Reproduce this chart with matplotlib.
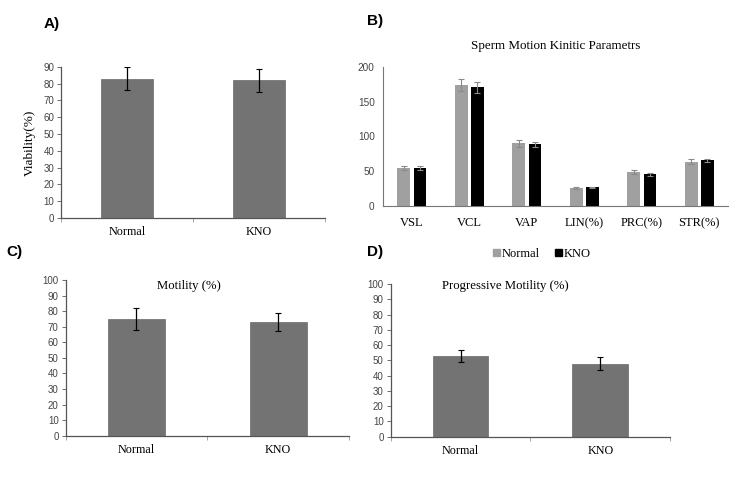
import numpy as np
import matplotlib
matplotlib.use('Agg')
import matplotlib.pyplot as plt
from matplotlib.patches import Patch

# data
groups = ['Normal', 'KNO']
viability = [83, 82]
viability_err = [7, 7]
motility = [75, 73]
motility_err = [7, 6]
prog_motility = [53, 48]
prog_motility_err = [4, 4]

params = ['VSL', 'VCL', 'VAP', 'LIN(%)', 'PRC(%)', 'STR(%)']
kin_normal = [55, 174, 90, 26, 49, 64]
kin_normal_err = [3, 9, 5, 2, 3, 4]
kin_kno = [54.5, 171, 88.5, 27, 45.5, 65.5]
kin_kno_err = [2.5, 8, 4, 1, 2.5, 2.5]

SERIF = 'Liberation Serif'
SANS = 'Liberation Sans'
BAR = '#737373'
AXC = '#555555'

fig = plt.figure(figsize=(7.54, 4.78), dpi=100)


def simple_panel(rect, vals, errs, ymax, step, ylabel=None):
    ax = fig.add_axes(rect)
    x = np.arange(len(groups))
    ax.bar(x, vals, width=0.4, color=BAR, edgecolor='#555555', linewidth=0.4, zorder=2)
    ax.errorbar(x, vals, yerr=errs, fmt='none', ecolor='black', elinewidth=0.9,
                capsize=2.5, capthick=0.8, zorder=3)
    ax.set_xlim(-0.5, len(groups) - 0.5)
    ax.set_ylim(0, ymax)
    ax.set_yticks(np.arange(0, ymax + 1, step))
    ax.set_xticks(x)
    ax.set_xticklabels(groups, fontfamily=SERIF, fontsize=8.7)
    ax.set_xticks(np.arange(-0.5, len(groups), 1), minor=True)
    ax.tick_params(axis='x', which='major', length=0, pad=6)
    ax.tick_params(axis='x', which='minor', length=3, color='#999999', width=0.6)
    ax.tick_params(axis='y', length=3, width=0.6, color=AXC, labelsize=7,
                   labelcolor='#444444', pad=2)
    for lbl in ax.get_yticklabels():
        lbl.set_fontfamily(SANS)
    for s in ['top', 'right']:
        ax.spines[s].set_visible(False)
    for s in ['left', 'bottom']:
        ax.spines[s].set_color(AXC)
        ax.spines[s].set_linewidth(0.9)
    if ylabel:
        ax.set_ylabel(ylabel, fontfamily=SERIF, fontsize=9.5, labelpad=5)
    return ax


# A) viability
simple_panel([0.081, 0.544, 0.350, 0.316], viability, viability_err, 90, 10,
             ylabel='Viability(%)')

# C) motility
axc = simple_panel([0.087, 0.0885, 0.376, 0.3257], motility, motility_err, 100, 10)
axc.text(0.435, 0.96, 'Motility (%)', transform=axc.transAxes, ha='center', va='center',
         fontfamily=SERIF, fontsize=9.2)

# D) progressive motility
axd = simple_panel([0.518, 0.0864, 0.371, 0.319], prog_motility, prog_motility_err, 100, 10)
axd.text(0.41, 0.99, 'Progressive Motility (%)', transform=axd.transAxes, ha='center',
         va='center', fontfamily=SERIF, fontsize=9.2)

# B) kinetic parameters
axb = fig.add_axes([0.508, 0.569, 0.4576, 0.291])
xb = np.arange(len(params))
w = 0.22
axb.bar(xb - 0.14, kin_normal, width=w, color='#a0a0a0', zorder=2)
axb.bar(xb + 0.14, kin_kno, width=w, color='black', zorder=2)
axb.errorbar(xb - 0.14, kin_normal, yerr=kin_normal_err, fmt='none', ecolor='#8a8a8a',
             elinewidth=0.8, capsize=2.5, capthick=0.8, zorder=3)
axb.errorbar(xb + 0.14, kin_kno, yerr=kin_kno_err, fmt='none', ecolor='#8a8a8a',
             elinewidth=0.8, capsize=2.5, capthick=0.8, zorder=3)
axb.set_xlim(-0.5, len(params) - 0.5)
axb.set_ylim(0, 200)
axb.set_yticks([0, 50, 100, 150, 200])
axb.set_xticks(xb)
axb.set_xticklabels(params, fontfamily=SERIF, fontsize=9)
axb.tick_params(axis='x', length=0, pad=8)
axb.tick_params(axis='y', length=0, labelsize=7.2, labelcolor='#444444', pad=6)
for lbl in axb.get_yticklabels():
    lbl.set_fontfamily(SANS)
for s in ['top', 'right']:
    axb.spines[s].set_visible(False)
for s in ['left', 'bottom']:
    axb.spines[s].set_color('#777777')
    axb.spines[s].set_linewidth(0.8)
axb.set_title('Sperm Motion Kinitic Parametrs', fontfamily=SERIF, fontsize=9.4, pad=13)
handles = [Patch(color='#a0a0a0', label='Normal'), Patch(color='black', label='KNO')]
axb.legend(handles=handles, loc='center', bbox_to_anchor=(0.46, -0.345), ncol=2,
           frameon=False, handlelength=0.55, handleheight=0.55, handletextpad=0.15,
           columnspacing=1.2, prop={'family': SERIF, 'size': 9})

# panel letters
for txt, x, y in [('A)', 0.058, 0.950), ('B)', 0.487, 0.956), ('C)', 0.009, 0.472),
                  ('D)', 0.487, 0.472)]:
    fig.text(x, y, txt, fontfamily=SANS, fontweight='bold', fontsize=11, va='center')

fig.savefig('out.png', dpi=100)
